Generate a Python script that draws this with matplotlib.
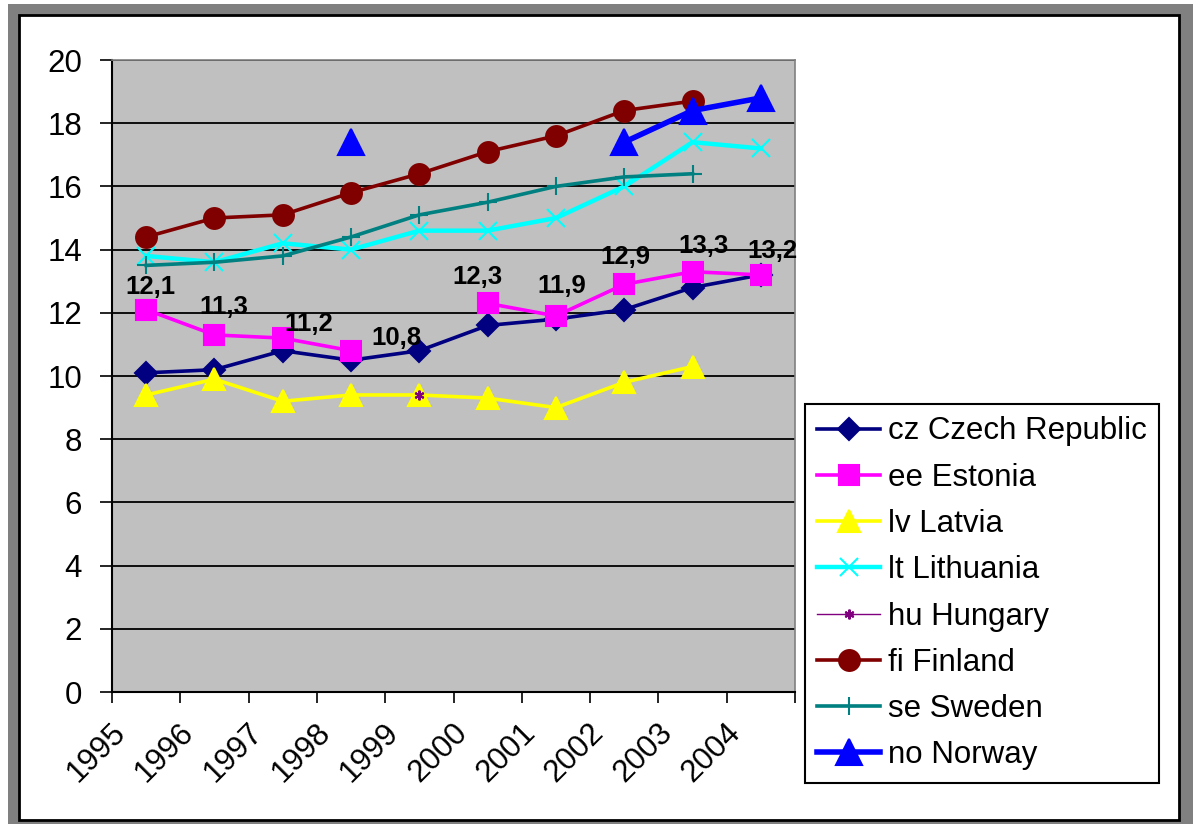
import numpy as np
import matplotlib
matplotlib.use("Agg")
import matplotlib.pyplot as plt
from matplotlib.patches import Rectangle
from matplotlib.transforms import ScaledTranslation

plt.rcParams['font.family'] = ['Liberation Sans', 'DejaVu Sans']

# dati (nan = valore mancante)
years = ['1995', '1996', '1997', '1998', '1999', '2000', '2001', '2002', '2003', '2004']
nan = np.nan
cz = [10.1, 10.2, 10.8, 10.5, 10.8, 11.6, 11.8, 12.1, 12.8, 13.2]
ee = [12.1, 11.3, 11.2, 10.8, nan, 12.3, 11.9, 12.9, 13.3, 13.2]
lv = [9.4, 9.9, 9.2, 9.4, 9.4, 9.3, 9.0, 9.8, 10.3, nan]
lt = [13.8, 13.6, 14.2, 14.0, 14.6, 14.6, 15.0, 16.0, 17.4, 17.2]
hu = [nan, nan, nan, nan, 9.4, nan, nan, nan, nan, nan]
fi = [14.4, 15.0, 15.1, 15.8, 16.4, 17.1, 17.6, 18.4, 18.7, nan]
se = [13.5, 13.6, 13.8, 14.4, 15.1, 15.5, 16.0, 16.3, 16.4, nan]
no = [nan, nan, nan, 17.4, nan, nan, nan, 17.4, 18.4, 18.8]

# posizione delle etichette di Estonia (pixel rispetto al punto)
label_offsets = [(4, 23), (9, 28), (26, 14), (45, 13), (0, 0),
                 (-10, 26), (6, 30), (1, 27), (11, 26), (12, 24)]

W, H = 1193, 824
fig = plt.figure(figsize=(W / 100, H / 100), dpi=100)

# cornice esterna stile Excel
fig.patches.append(Rectangle((8 / W, 0), 1 - 8 / W, 1 - 4 / H, transform=fig.transFigure,
                             facecolor='#808080', edgecolor='none', zorder=-10))
fig.patches.append(Rectangle((19 / W, 4 / H), 1160 / W, 805 / H, transform=fig.transFigure,
                             facecolor='white', edgecolor='black', linewidth=2, zorder=-9))

ax = fig.add_axes([112 / W, 132 / H, 683 / W, 632 / H])
ax.set_facecolor('#C0C0C0')
x = np.arange(len(years))

series = [
    (cz, 'cz Czech Republic', '#000080', 'D', 11, 2.6),
    (ee, 'ee Estonia', '#FF00FF', 's', 14, 2.6),
    (lv, 'lv Latvia', '#FFFF00', '^', 16, 2.6),
    (lt, 'lt Lithuania', '#00FFFF', 'x', 13, 3.2),
    (hu, 'hu Hungary', '#800080', (6, 2, 0), 7, 1.0),
    (fi, 'fi Finland', '#800000', 'o', 15, 2.6),
    (se, 'se Sweden', '#008080', '+', 13, 2.6),
    (no, 'no Norway', '#0000FF', '^', 19, 4.0),
]
for vals, name, col, mk, ms, lw in series:
    ax.plot(x, vals, color=col, marker=mk, markersize=ms, linewidth=lw,
            markeredgecolor=col, markerfacecolor=col, markeredgewidth=1.5, label=name)

for i, v in enumerate(ee):
    if np.isnan(v):
        continue
    ax.annotate(f"{v:.1f}".replace('.', ','), (x[i], v), xytext=label_offsets[i],
                textcoords='offset pixels', ha='center', va='center',
                fontsize=18.5, fontweight='bold', color='black')

ax.set_xlim(-0.5, 9.5)
ax.set_ylim(0, 20)
ax.set_yticks(np.arange(0, 21, 2))
ax.yaxis.grid(True, color='black', linewidth=1.3)
ax.set_axisbelow(True)

ax.set_xticks(x)
ax.set_xticklabels(years)
ax.set_xticks(np.arange(-0.5, 10, 1), minor=True)
ax.tick_params(axis='x', which='major', length=0, pad=26, labelsize=22.5)
ax.tick_params(axis='x', which='minor', length=8, width=1.2, direction='out')
ax.tick_params(axis='y', length=8.6, width=1.2, pad=13, labelsize=22.5)
shift = ScaledTranslation(-0.25, 0, fig.dpi_scale_trans)
for lbl in ax.get_xticklabels():
    lbl.set_rotation(45)
    lbl.set_ha('right')
    lbl.set_va('center')
    lbl.set_rotation_mode('anchor')
    lbl.set_transform(lbl.get_transform() + shift)

for s in ['left', 'bottom']:
    ax.spines[s].set_color('black')
    ax.spines[s].set_linewidth(1.5)
for s in ['top', 'right']:
    ax.spines[s].set_color('#808080')
    ax.spines[s].set_linewidth(1.2)

leg = fig.legend(loc='upper left', bbox_to_anchor=(805 / W, 1 - 404 / H), fontsize=22.5,
                 frameon=True, fancybox=False, borderpad=0.4, labelspacing=0.52,
                 handlelength=2.0, handletextpad=0.25, borderaxespad=0)
leg.get_frame().set_edgecolor('black')
leg.get_frame().set_linewidth(1.5)
leg.get_frame().set_alpha(1)

fig.savefig('out.png', dpi=100)
